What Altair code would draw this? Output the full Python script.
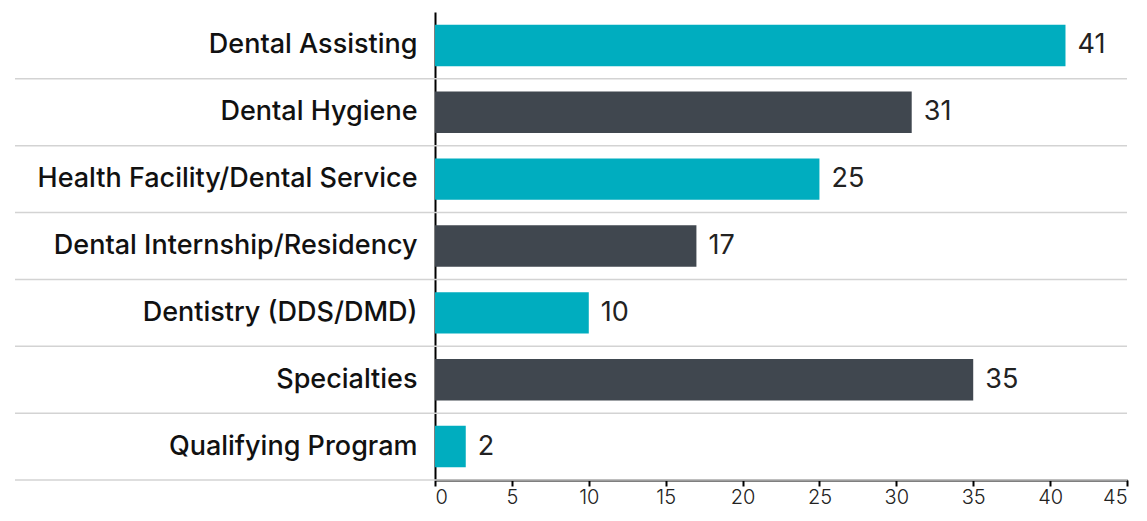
import altair as alt
import pandas as pd

categories = ["Dental Assisting", "Dental Hygiene", "Health Facility/Dental Service",
              "Dental Internship/Residency", "Dentistry (DDS/DMD)", "Specialties",
              "Qualifying Program"]
values = [41, 31, 25, 17, 10, 35, 2]
groups = ["a", "b", "a", "b", "a", "b", "a"]
x_ticks = [0, 5, 10, 15, 20, 25, 30, 35, 40, 45]

df = pd.DataFrame({"cat": categories, "val": values, "grp": groups})

FONT = "Inter"
W, H = 692, 468
step = H / 7

y = alt.Y("cat:N", sort=categories,
          scale=alt.Scale(paddingInner=0.38, paddingOuter=0.19),
          axis=alt.Axis(title=None, ticks=False, domain=True, domainColor="#000000",
                        domainWidth=2, labelFontSize=27, labelFont=FONT,
                        labelFontWeight=500, labelColor="#111111", labelPadding=18,
                        labelLimit=500, grid=False))

x = alt.X("val:Q", scale=alt.Scale(domain=[0, 45], nice=False),
          axis=alt.Axis(title=None, values=x_ticks, grid=False, domainColor="#000000",
                        domainWidth=2, tickColor="#000000", tickWidth=2, tickSize=6,
                        labelFontSize=20, labelFont=FONT, labelFontWeight=300,
                        labelColor="#222222", labelPadding=1))

bars = alt.Chart(df).mark_bar().encode(
    x=x, y=y,
    color=alt.Color("grp:N", scale=alt.Scale(domain=["a", "b"], range=["#00ADBF", "#40474F"]),
                    legend=None),
)

grid = alt.Chart(df).mark_rule(color="#D3D3D3", strokeWidth=1.5, yOffset=step / 2).encode(
    y=alt.Y("cat:N", sort=categories),
    x=alt.value(-420), x2=alt.value(W),
)

labels = alt.Chart(df).mark_text(align="left", baseline="middle", dx=12, fontSize=27,
                                 font=FONT, color="#222222").encode(
    x="val:Q", y=alt.Y("cat:N", sort=categories), text="val:Q")

chart = alt.layer(grid, bars, labels).properties(
    width=W, height=H,
    padding={"left": 427, "top": 4, "right": 12, "bottom": 28},
    autosize=alt.AutoSizeParams(type="none"),
).configure_view(stroke=None)

chart.save("out.html", embed_options={"renderer": "svg", "actions": False})
